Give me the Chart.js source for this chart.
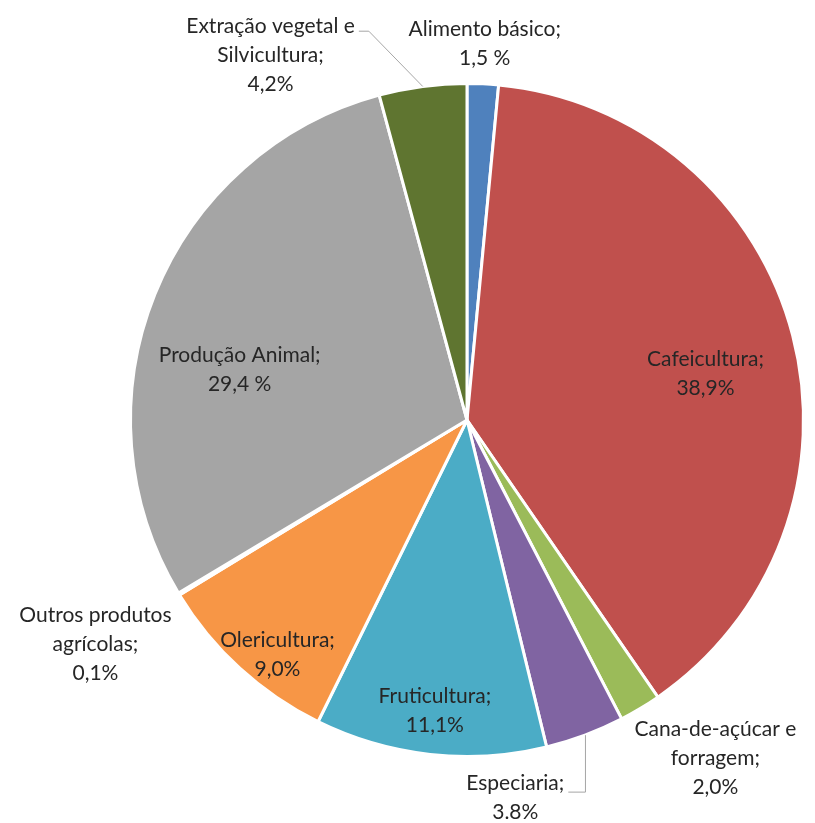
<!DOCTYPE html>
<html>
<head>
<meta charset="utf-8">
<script src="https://cdn.jsdelivr.net/npm/chart.js@4"></script>
<style>
    html, body { margin: 0; padding: 0; background: #fff; }
    #wrap { width: 815px; height: 823px; position: relative; }
</style>
</head>
<body>
<div id="wrap"><canvas id="chart"></canvas></div>
<script>
// Chart data
const categories = [
    'Alimento básico', 'Cafeicultura', 'Cana-de-açúcar e forragem', 'Especiaria',
    'Fruticultura', 'Olericultura', 'Outros produtos agrícolas', 'Produção Animal',
    'Extração vegetal e Silvicultura'
];
const values = [1.5, 38.9, 2.0, 3.8, 11.1, 9.0, 0.1, 29.4, 4.2];
const valueLabels = ['1,5 %', '38,9%', '2,0%', '3.8%', '11,1%', '9,0%', '0,1%', '29,4 %', '4,2%'];
// label text lines (category part)
const labelLines = [
    ['Alimento básico;'],
    ['Cafeicultura;'],
    ['Cana-de-açúcar e', 'forragem;'],
    ['Especiaria;'],
    ['Fruticultura;'],
    ['Olericultura;'],
    ['Outros produtos', 'agrícolas;'],
    ['Produção Animal;'],
    ['Extração vegetal e', 'Silvicultura;']
];
const colors = ['#4F81BD', '#C0504D', '#9BBB59', '#8064A2', '#4BACC6', '#F79646', '#FFFFFF', '#A5A5A5', '#5F7530'];

// Label placement: radius factor along slice mid angle + pixel nudge
const labelPlacement = [
    { f: 1.12, dx: 0, dy: 0 },
    { f: 0.72, dx: 4, dy: 15 },
    { f: 1.25, dx: 32, dy: -22 },
    { f: 1.13, dx: -85, dy: 22 },
    { f: 0.87, dx: 0, dy: 0 },
    { f: 0.90, dx: 15, dy: 11 },
    { f: 1.29, dx: 0, dy: 0 },
    { f: 0.69, dx: -12, dy: 37 },
    { f: 1.23, dx: -142, dy: 46 }
];
// indices that get a leader line
const leaderLines = { 3: 'down', 8: 'up' };

const pieLabels = {
    id: 'pieLabels',
    afterDatasetsDraw(chart) {
        const ctx = chart.ctx;
        const meta = chart.getDatasetMeta(0);
        const lineH = 29;
        ctx.save();
        ctx.font = '21px Lato, "Liberation Sans", sans-serif';
        ctx.fillStyle = '#262626';
        ctx.textAlign = 'center';
        ctx.textBaseline = 'middle';
        meta.data.forEach((arc, i) => {
            const p = arc.getProps(['x', 'y', 'startAngle', 'endAngle', 'outerRadius'], true);
            const mid = (p.startAngle + p.endAngle) / 2;
            const pl = labelPlacement[i];
            const lines = labelLines[i].concat([valueLabels[i]]);
            const cx = p.x + Math.cos(mid) * p.outerRadius * pl.f + pl.dx;
            const cy = p.y + Math.sin(mid) * p.outerRadius * pl.f + pl.dy;
            const top = cy - (lines.length - 1) * lineH / 2;
            lines.forEach((t, k) => ctx.fillText(t, cx, top + k * lineH));

            // leader lines
            if (leaderLines[i]) {
                const ex = p.x + Math.cos(mid) * p.outerRadius;
                const ey = p.y + Math.sin(mid) * p.outerRadius;
                const w = ctx.measureText(lines[0]).width;
                ctx.strokeStyle = '#A6A6A6';
                ctx.lineWidth = 1;
                ctx.beginPath();
                if (leaderLines[i] === 'down') {
                    const ly = top + 8;
                    ctx.moveTo(ex + 0.5, ey);
                    ctx.lineTo(ex + 0.5, ly + 0.5);
                    ctx.lineTo(cx + w / 2 + 4, ly + 0.5);
                } else {
                    const lx = cx + w / 2 + 4;
                    const ly = top + 4;
                    ctx.moveTo(lx, ly + 0.5);
                    ctx.lineTo(lx + 10, ly + 0.5);
                    ctx.lineTo(ex, ey);
                }
                ctx.stroke();
            }
        });
        ctx.restore();
    }
};

new Chart(document.getElementById('chart'), {
    type: 'pie',
    data: {
        labels: categories,
        datasets: [{
            data: values,
            backgroundColor: colors,
            borderColor: '#FFFFFF',
            borderWidth: 3
        }]
    },
    options: {
        responsive: true,
        maintainAspectRatio: false,
        animation: false,
        layout: {
            padding: { left: 129, right: 10, top: 82, bottom: 65 }
        },
        plugins: {
            legend: { display: false },
            tooltip: { enabled: false }
        }
    },
    plugins: [pieLabels]
});
</script>
</body>
</html>
